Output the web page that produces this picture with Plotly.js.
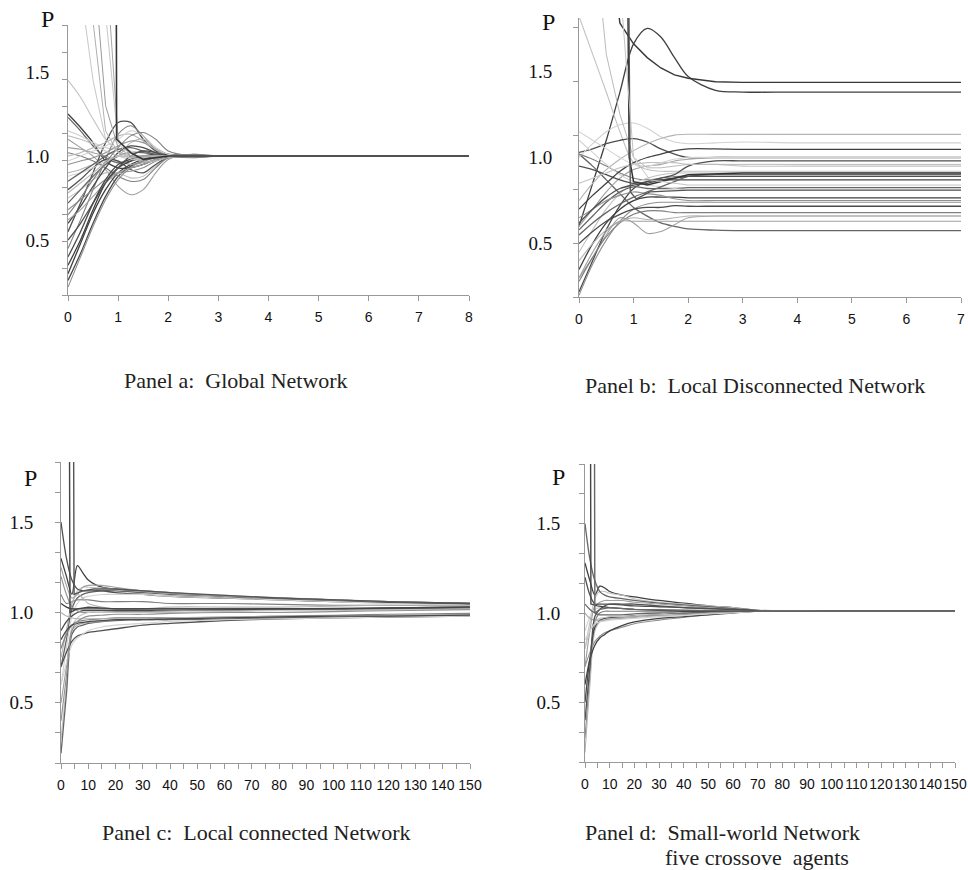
<!DOCTYPE html>
<html>
<head>
<meta charset="utf-8">
<script src="https://cdn.plot.ly/plotly-3.0.1.min.js"></script>
<style>html,body{margin:0;padding:0;background:#fff;}#chart{width:968px;height:870px;}</style>
</head>
<body>
<div id="chart"></div>
<script>
// ---------------- Panel a: Global Network ----------------
const xa = [0, 0.25, 0.5, 0.75, 1, 1.25, 1.5, 1.75, 2, 2.5, 3, 4, 8];
const a01 = [1.25, 1.17, 1.08, 0.97, 0.93, 0.93, 0.95, 0.98, 0.995, 1.0, 1.0, 1.0, 1.0];
const a02 = [1.23, 1.15, 1.06, 0.99, 0.96, 0.97, 0.99, 1.0, 1.0, 1.0, 1.0, 1.0, 1.0];
const a03 = [0.55, 0.72, 0.9, 1.08, 1.2, 1.2, 1.1, 1.03, 1.0, 0.995, 1.0, 1.0, 1.0];
const a04 = [0.45, 0.62, 0.8, 0.98, 1.13, 1.18, 1.12, 1.04, 1.0, 0.99, 1.0, 1.0, 1.0];
const a05 = [0.26, 0.42, 0.6, 0.76, 0.88, 0.94, 0.97, 0.99, 1.0, 1.0, 1.0, 1.0, 1.0];
const a06 = [0.3, 0.48, 0.66, 0.8, 0.9, 0.95, 0.98, 1.0, 1.0, 1.0, 1.0, 1.0, 1.0];
const a07 = [0.72, 0.8, 0.88, 0.95, 1.0, 1.02, 1.02, 1.01, 1.0, 1.0, 1.0, 1.0, 1.0];
const a08 = [0.8, 0.86, 0.93, 0.98, 0.97, 0.92, 0.9, 0.95, 0.99, 1.0, 1.0, 1.0, 1.0];
const a09 = [1.02, 1.0, 0.97, 0.93, 0.88, 0.85, 0.86, 0.93, 0.99, 1.01, 1.0, 1.0, 1.0];
const a10 = [0.6, 0.7, 0.82, 0.93, 1.02, 1.06, 1.05, 1.02, 1.0, 1.0, 1.0, 1.0, 1.0];
const a11 = [0.35, 0.5, 0.68, 0.84, 0.93, 0.97, 1.0, 1.01, 1.01, 1.0, 1.0, 1.0, 1.0];
const a12 = [0.85, 0.9, 0.95, 1.0, 1.04, 1.05, 1.03, 1.01, 1.0, 1.0, 1.0, 1.0, 1.0];
const a13 = [1.45, 1.35, 1.22, 1.1, 1.03, 1.0, 0.99, 1.0, 1.0, 1.0, 1.0, 1.0, 1.0];
const a14 = [1.1, 1.05, 1.0, 0.92, 0.82, 0.77, 0.8, 0.9, 0.98, 1.01, 1.0, 1.0, 1.0];
const a15 = [0.9, 0.92, 0.95, 0.98, 1.0, 1.08, 1.1, 1.05, 1.01, 1.0, 1.0, 1.0, 1.0];
const a16 = [1.15, 1.12, 1.08, 1.05, 1.04, 1.03, 1.02, 1.01, 1.0, 1.0, 1.0, 1.0, 1.0];
const a17 = [0.5, 0.6, 0.72, 0.84, 0.93, 1.0, 1.03, 1.02, 1.0, 1.0, 1.0, 1.0, 1.0];
const a18 = [0.65, 0.75, 0.86, 0.96, 1.05, 1.12, 1.14, 1.1, 1.03, 1.0, 1.0, 1.0, 1.0];
const a19 = [0.95, 0.97, 0.99, 1.02, 1.06, 1.09, 1.08, 1.04, 1.01, 1.0, 1.0, 1.0, 1.0];
const a20 = [0.4, 0.55, 0.72, 0.86, 0.95, 0.98, 1.0, 1.0, 1.0, 1.0, 1.0, 1.0, 1.0];
const a21 = [0.22, 0.4, 0.58, 0.74, 0.86, 0.93, 0.97, 0.99, 1.0, 1.0, 1.0, 1.0, 1.0];
const a22 = [0.75, 0.8, 0.86, 0.9, 0.9, 0.87, 0.88, 0.94, 0.99, 1.0, 1.0, 1.0, 1.0];
const a23 = [1.05, 1.04, 1.02, 1.0, 0.97, 0.95, 0.96, 0.98, 1.0, 1.0, 1.0, 1.0, 1.0];
const a24 = [0.88, 0.9, 0.93, 0.97, 1.0, 1.02, 1.03, 1.02, 1.01, 1.0, 1.0, 1.0, 1.0];
const a25 = [1.0, 1.02, 1.05, 1.08, 1.12, 1.13, 1.09, 1.04, 1.01, 1.0, 1.0, 1.0, 1.0];
const a26 = [0.68, 0.74, 0.8, 0.86, 0.9, 0.91, 0.93, 0.97, 1.0, 1.0, 1.0, 1.0, 1.0];
const a32 = [1.12, 1.1, 1.07, 1.03, 1.0, 0.98, 0.98, 0.99, 1.0, 1.0, 1.0, 1.0, 1.0];
const a33 = [0.62, 0.68, 0.76, 0.84, 0.9, 0.93, 0.95, 0.98, 1.0, 1.0, 1.0, 1.0, 1.0];
const a34 = [0.97, 1.0, 1.03, 1.06, 1.1, 1.15, 1.12, 1.05, 1.01, 1.0, 1.0, 1.0, 1.0];
const a35 = [0.78, 0.84, 0.9, 0.96, 1.0, 0.99, 0.97, 0.97, 0.99, 1.0, 1.0, 1.0, 1.0];
// steep entries from above the frame
const a27 = [3.0, 2.0, 1.45, 1.1, 1.02, 1.0, 1.0, 1.0, 1.0, 1.0, 1.0, 1.0, 1.0];
const a28 = [4.5, 3.0, 1.8, 1.15, 1.02, 0.99, 1.0, 1.0, 1.0, 1.0, 1.0, 1.0, 1.0];
const a29 = [5.0, 3.5, 2.2, 1.3, 1.05, 1.0, 1.0, 1.0, 1.0, 1.0, 1.0, 1.0, 1.0];
const a30 = [6.0, 4.5, 3.0, 1.85, 1.08, 0.98, 0.99, 1.0, 1.0, 1.0, 1.0, 1.0, 1.0];
const a31 = [7.0, 5.5, 3.8, 2.2, 1.1, 1.0, 1.0, 1.0, 1.0, 1.0, 1.0, 1.0, 1.0];
const xaSpike = [0, 0.96, 0.97, 1.25, 1.5, 2, 3, 8];
const aSpike = [2.5, 2.5, 1.1, 1.02, 0.98, 1.0, 1.0, 1.0];

// ---------------- Panel b: Local Disconnected Network ----------------
const xb = [0, 0.25, 0.5, 0.75, 1, 1.25, 1.5, 1.75, 2, 2.5, 3, 4, 7];
const b01 = [0.6, 0.85, 1.1, 1.38, 1.66, 1.75, 1.7, 1.58, 1.47, 1.39, 1.38, 1.38, 1.38];
const b02 = [4.0, 3.2, 2.4, 1.78, 1.66, 1.58, 1.52, 1.48, 1.46, 1.44, 1.436, 1.436, 1.436];
const b03 = [1.82, 1.6, 1.38, 1.15, 0.97, 0.93, 0.92, 0.92, 0.92, 0.92, 0.92, 0.92, 0.92];
const b06 = [1.02, 0.95, 0.87, 0.79, 0.71, 0.66, 0.62, 0.6, 0.585, 0.578, 0.575, 0.575, 0.575];
const b07 = [0.3, 0.42, 0.55, 0.65, 0.62, 0.56, 0.57, 0.61, 0.65, 0.66, 0.66, 0.66, 0.66];
const b08 = [1.03, 1.05, 1.08, 1.1, 1.11, 1.09, 1.05, 1.02, 1.0, 1.0, 1.0, 1.0, 1.0];
const b09 = [1.0, 1.08, 1.15, 1.19, 1.2, 1.17, 1.12, 1.09, 1.08, 1.085, 1.09, 1.085, 1.085];
const b10 = [0.75, 0.85, 0.93, 0.99, 1.04, 1.08, 1.11, 1.13, 1.135, 1.134, 1.134, 1.134, 1.134];
const b11 = [1.02, 0.99, 0.95, 0.91, 0.88, 0.87, 0.88, 0.89, 0.89, 0.89, 0.89, 0.89, 0.89];
const b12 = [0.22, 0.4, 0.58, 0.72, 0.82, 0.86, 0.87, 0.87, 0.87, 0.87, 0.87, 0.87, 0.87];
const b13 = [0.2, 0.38, 0.52, 0.63, 0.7, 0.73, 0.74, 0.74, 0.74, 0.74, 0.74, 0.74, 0.74];
const b14 = [0.35, 0.5, 0.62, 0.7, 0.75, 0.77, 0.77, 0.77, 0.766, 0.766, 0.766, 0.766, 0.766];
const b15 = [0.45, 0.58, 0.7, 0.79, 0.85, 0.88, 0.9, 0.91, 0.91, 0.91, 0.91, 0.91, 0.91];
const b16 = [0.58, 0.66, 0.74, 0.8, 0.83, 0.82, 0.82, 0.82, 0.825, 0.825, 0.825, 0.825, 0.825];
const b17 = [0.6, 0.7, 0.8, 0.88, 0.93, 0.95, 0.96, 0.98, 0.99, 1.0, 1.0, 1.0, 1.0];
const b18 = [0.95, 0.93, 0.9, 0.87, 0.85, 0.86, 0.88, 0.9, 0.95, 0.98, 0.98, 0.98, 0.98];
const b19 = [1.1, 1.03, 0.96, 0.9, 0.86, 0.84, 0.83, 0.82, 0.81, 0.81, 0.81, 0.81, 0.81];
const b20 = [0.28, 0.42, 0.54, 0.62, 0.67, 0.69, 0.69, 0.68, 0.68, 0.68, 0.68, 0.68, 0.68];
const b21 = [0.4, 0.5, 0.58, 0.63, 0.65, 0.64, 0.64, 0.65, 0.66, 0.66, 0.66, 0.66, 0.66];
const b22 = [0.5, 0.57, 0.63, 0.67, 0.7, 0.71, 0.71, 0.72, 0.717, 0.717, 0.717, 0.717, 0.717];
const b23 = [0.65, 0.7, 0.75, 0.78, 0.8, 0.79, 0.78, 0.76, 0.75, 0.75, 0.75, 0.75, 0.75];
const b24 = [0.7, 0.78, 0.85, 0.92, 0.97, 1.0, 1.02, 1.04, 1.05, 1.05, 1.047, 1.047, 1.047];
const b25 = [0.85, 0.88, 0.91, 0.94, 0.96, 0.97, 0.97, 0.97, 0.96, 0.96, 0.95, 0.95, 0.95];
const b26 = [0.55, 0.62, 0.68, 0.73, 0.77, 0.8, 0.83, 0.86, 0.89, 0.9, 0.9, 0.9, 0.9];
const b27 = [3.0, 2.4, 1.6, 1.25, 1.0, 0.94, 0.94, 0.95, 0.96, 0.96, 0.96, 0.96, 0.96];
const b29 = [0.3, 0.45, 0.57, 0.63, 0.63, 0.63, 0.63, 0.63, 0.63, 0.63, 0.63, 0.63, 0.63];
const b30 = [0.62, 0.7, 0.77, 0.82, 0.84, 0.85, 0.87, 0.88, 0.89, 0.89, 0.89, 0.89, 0.89];
const b31 = [1.15, 1.1, 1.05, 1.0, 0.96, 0.95, 0.97, 0.99, 1.0, 1.0, 1.0, 1.0, 1.0];
const xbSpike1 = [0, 0.88, 0.92, 1.0, 1.25, 1.5, 2, 3, 7];
const bSpike1 = [2.5, 2.5, 1.0, 0.86, 0.84, 0.86, 0.9, 0.91, 0.91];
const xbSpike2 = [0, 0.9, 0.94, 1.05, 1.3, 2, 3, 7];
const bSpike2 = [2.5, 2.5, 0.8, 0.76, 0.8, 0.81, 0.81, 0.81];
const xbSteep = [0, 0.8, 1.0, 1.3, 2, 3, 7];
const bSteep = [2.5, 1.81, 1.0, 0.87, 0.84, 0.84, 0.84];

// ---------------- Panel c: Local connected Network ----------------
const xc = [0, 2, 4, 6, 8, 10, 15, 20, 30, 40, 60, 80, 100, 120, 150];
const c01 = [1.3, 1.2, 1.1, 1.26, 1.22, 1.18, 1.14, 1.13, 1.12, 1.11, 1.09, 1.08, 1.07, 1.06, 1.05];
const c02 = [0.8, 0.9, 1.05, 1.12, 1.14, 1.14, 1.135, 1.13, 1.12, 1.11, 1.095, 1.08, 1.07, 1.06, 1.05];
const c03 = [0.7, 0.85, 1.02, 1.08, 1.1, 1.11, 1.12, 1.12, 1.11, 1.1, 1.09, 1.075, 1.065, 1.055, 1.045];
const c04 = [1.25, 1.15, 1.08, 1.1, 1.14, 1.15, 1.15, 1.14, 1.12, 1.105, 1.09, 1.08, 1.07, 1.06, 1.05];
const c05 = [1.5, 1.3, 1.18, 1.13, 1.12, 1.12, 1.12, 1.11, 1.1, 1.09, 1.08, 1.07, 1.06, 1.055, 1.05];
const c06 = [0.6, 0.8, 0.98, 1.05, 1.08, 1.09, 1.1, 1.1, 1.1, 1.09, 1.08, 1.07, 1.06, 1.05, 1.04];
const c07 = [1.1, 1.05, 1.06, 1.07, 1.07, 1.07, 1.06, 1.06, 1.06, 1.05, 1.05, 1.045, 1.04, 1.04, 1.035];
const c08 = [0.75, 0.9, 1.05, 1.1, 1.08, 1.05, 1.03, 1.02, 1.02, 1.03, 1.03, 1.03, 1.035, 1.04, 1.04];
const c09 = [0.9, 0.95, 0.98, 1.0, 1.01, 1.01, 1.01, 1.01, 1.01, 1.01, 1.015, 1.02, 1.02, 1.025, 1.03];
const c10 = [1.2, 1.1, 1.03, 1.01, 1.0, 1.0, 1.0, 1.005, 1.005, 1.01, 1.01, 1.015, 1.02, 1.02, 1.025];
const c11 = [1.05, 1.03, 1.02, 1.02, 1.02, 1.02, 1.02, 1.02, 1.02, 1.02, 1.02, 1.02, 1.02, 1.02, 1.02];
const c12 = [0.3, 0.6, 0.92, 0.97, 0.99, 1.0, 1.0, 1.0, 1.0, 1.0, 1.005, 1.01, 1.01, 1.015, 1.02];
const c13 = [0.22, 0.55, 0.88, 0.92, 0.93, 0.94, 0.95, 0.955, 0.96, 0.96, 0.965, 0.97, 0.975, 0.98, 0.99];
const c14 = [0.5, 0.7, 0.9, 0.93, 0.94, 0.945, 0.95, 0.96, 0.965, 0.97, 0.97, 0.975, 0.98, 0.985, 0.99];
const c15 = [0.7, 0.78, 0.84, 0.87, 0.88, 0.89, 0.9, 0.91, 0.93, 0.94, 0.955, 0.965, 0.97, 0.975, 0.98];
const c16 = [0.6, 0.72, 0.82, 0.86, 0.88, 0.9, 0.92, 0.93, 0.94, 0.95, 0.96, 0.965, 0.97, 0.975, 0.98];
const c17 = [0.8, 0.88, 0.93, 0.95, 0.955, 0.96, 0.965, 0.97, 0.97, 0.97, 0.975, 0.98, 0.985, 0.99, 0.995];
const c18 = [1.0, 0.98, 0.97, 0.965, 0.965, 0.965, 0.965, 0.965, 0.965, 0.97, 0.975, 0.98, 0.98, 0.985, 0.99];
const c19 = [0.85, 0.9, 0.93, 0.94, 0.945, 0.95, 0.955, 0.96, 0.96, 0.965, 0.97, 0.975, 0.98, 0.98, 0.985];
const c20 = [0.4, 0.65, 0.9, 0.95, 0.97, 0.98, 0.985, 0.99, 0.99, 0.995, 1.0, 1.0, 1.005, 1.01, 1.015];
const xcSpike1 = [0, 2.8, 3.3, 6, 10, 20, 40, 80, 120, 150];
const cSpike1 = [3.5, 3.5, 1.0, 1.02, 1.03, 1.02, 1.02, 1.02, 1.025, 1.03];
const xcSpike2 = [0, 4.3, 4.8, 8, 12, 20, 40, 80, 120, 150];
const cSpike2 = [3.5, 3.5, 1.1, 1.12, 1.13, 1.13, 1.11, 1.08, 1.06, 1.05];

// ---------------- Panel d: Small-world Network ----------------
const xd = [0, 2, 4, 6, 8, 10, 15, 20, 30, 40, 50, 60, 70, 100, 150];
const d01 = [1.28, 1.18, 1.1, 1.15, 1.14, 1.12, 1.1, 1.09, 1.07, 1.055, 1.04, 1.03, 1.015, 1.01, 1.01];
const d02 = [0.8, 0.95, 1.08, 1.12, 1.12, 1.11, 1.1, 1.08, 1.06, 1.05, 1.04, 1.03, 1.015, 1.01, 1.01];
const d03 = [1.5, 1.3, 1.18, 1.12, 1.1, 1.09, 1.08, 1.07, 1.055, 1.045, 1.035, 1.025, 1.015, 1.01, 1.01];
const d04 = [0.7, 0.9, 1.04, 1.06, 1.07, 1.07, 1.07, 1.06, 1.05, 1.04, 1.03, 1.02, 1.012, 1.01, 1.01];
const d05 = [1.2, 1.1, 1.05, 1.05, 1.05, 1.05, 1.045, 1.04, 1.035, 1.03, 1.025, 1.02, 1.012, 1.01, 1.01];
const d06 = [0.9, 0.98, 1.02, 1.03, 1.03, 1.03, 1.025, 1.02, 1.02, 1.015, 1.012, 1.01, 1.01, 1.01, 1.01];
const d07 = [0.3, 0.65, 0.95, 1.0, 1.01, 1.01, 1.01, 1.01, 1.01, 1.01, 1.01, 1.01, 1.01, 1.01, 1.01];
const d08 = [0.22, 0.6, 0.9, 0.95, 0.96, 0.97, 0.975, 0.98, 0.99, 0.995, 1.0, 1.005, 1.01, 1.01, 1.01];
const d09 = [0.5, 0.75, 0.92, 0.96, 0.97, 0.975, 0.98, 0.985, 0.99, 0.995, 1.0, 1.005, 1.01, 1.01, 1.01];
const d10 = [0.7, 0.78, 0.84, 0.87, 0.89, 0.9, 0.92, 0.94, 0.96, 0.975, 0.99, 1.0, 1.01, 1.01, 1.01];
const d11 = [0.6, 0.74, 0.82, 0.86, 0.88, 0.9, 0.93, 0.95, 0.97, 0.98, 0.99, 1.0, 1.01, 1.01, 1.01];
const d12 = [0.8, 0.9, 0.95, 0.97, 0.975, 0.98, 0.98, 0.985, 0.99, 0.995, 1.0, 1.005, 1.01, 1.01, 1.01];
const d13 = [1.05, 1.02, 1.0, 0.99, 0.99, 0.99, 0.99, 0.995, 1.0, 1.0, 1.005, 1.008, 1.01, 1.01, 1.01];
const d14 = [1.0, 0.97, 0.96, 0.96, 0.96, 0.965, 0.97, 0.975, 0.985, 0.99, 1.0, 1.005, 1.01, 1.01, 1.01];
const d15 = [0.4, 0.7, 0.98, 1.02, 1.04, 1.05, 1.05, 1.05, 1.04, 1.03, 1.025, 1.02, 1.012, 1.01, 1.01];
const d16 = [0.85, 0.9, 0.94, 0.95, 0.955, 0.96, 0.965, 0.97, 0.98, 0.985, 0.995, 1.0, 1.01, 1.01, 1.01];
const xdSpike1 = [0, 2, 2.4, 5, 10, 20, 40, 70, 150];
const dSpike1 = [3.5, 3.5, 1.05, 1.04, 1.03, 1.02, 1.01, 1.01, 1.01];
const xdSpike2 = [0, 3.6, 4, 6, 10, 20, 40, 70, 150];
const dSpike2 = [3.5, 3.5, 1.0, 1.02, 1.03, 1.02, 1.015, 1.01, 1.01];

// Tick labels / captions
const yTickVals = [0.5, 1.0, 1.5];
const yTickText = ['0.5', '1.0', '1.5'];
const captions = ['Panel a:\u00a0\u00a0Global Network', 'Panel b:\u00a0\u00a0Local Disconnected Network',
                  'Panel c:\u00a0\u00a0Local connected Network', 'Panel d:\u00a0\u00a0Small-world Network',
                  'five crossove\u00a0\u00a0agents'];

// ---------------- styles ----------------
const shades = ['#404040', '#c2c2c2', '#666666', '#a0a0a0', '#505050', '#d2d2d2', '#808080', '#b4b4b4', '#4a4a4a', '#909090'];
const darkSet = ['#404040', '#505050', '#4a4a4a', '#666666'];

const traces = [];
function addSeries(x, list, xa_, ya_, shape) {
  list.forEach((y, i) => {
    const c = shades[i % shades.length];
    const dark = darkSet.includes(c);
    traces.push({x: x, y: y, xaxis: xa_, yaxis: ya_, mode: 'lines', type: 'scatter',
      line: {color: c, width: dark ? 1.3 : 1.1, shape: shape || 'spline', smoothing: 0.9},
      hoverinfo: 'skip', showlegend: false});
  });
}
function addLinear(x, y, xa_, ya_, c, w) {
  traces.push({x: x, y: y, xaxis: xa_, yaxis: ya_, mode: 'lines', type: 'scatter',
    line: {color: c, width: w, shape: 'linear'}, hoverinfo: 'skip', showlegend: false});
}

addSeries(xa, [a01,a13,a02,a14,a03,a16,a04,a15,a05,a19,a06,a22,a07,a23,a08,a24,a09,a25,a10,a26,a11,a32,a12,a33,a17,a34,a18,a35,a20,a21], 'x', 'y');
addLinear(xa, a27, 'x', 'y', '#c8c8c8', 1);
addLinear(xa, a28, 'x', 'y', '#b0b0b0', 1);
addLinear(xa, a29, 'x', 'y', '#9a9a9a', 1);
addLinear(xa, a30, 'x', 'y', '#c8c8c8', 1);
addLinear(xa, a31, 'x', 'y', '#a8a8a8', 1);
addLinear(xaSpike, aSpike, 'x', 'y', '#333', 1.6);

addSeries(xb, [b01,b03,b06,b07,b08,b09,b11,b10,b12,b13,b14,b15,b16,b17,b18,b19,b20,b21,b22,b23,b24,b25,b26,b29,b30,b31], 'x2', 'y2');
addLinear(xb, b02, 'x2', 'y2', '#383838', 1.4);
addLinear(xb, b27, 'x2', 'y2', '#bbb', 1);
addLinear(xbSpike1, bSpike1, 'x2', 'y2', '#333', 1.5);
addLinear(xbSpike2, bSpike2, 'x2', 'y2', '#555', 1.3);
addLinear(xbSteep, bSteep, 'x2', 'y2', '#c4c4c4', 1);

addSeries(xc, [c01,c02,c03,c04,c05,c06,c07,c08,c09,c10,c11,c12,c13,c14,c15,c16,c17,c18,c19,c20], 'x3', 'y3');
addLinear(xcSpike1, cSpike1, 'x3', 'y3', '#444', 1.4);
addLinear(xcSpike2, cSpike2, 'x3', 'y3', '#555', 1.4);

addSeries(xd, [d01,d02,d03,d04,d05,d06,d07,d08,d09,d10,d11,d12,d13,d14,d15,d16], 'x4', 'y4');
addLinear(xdSpike1, dSpike1, 'x4', 'y4', '#444', 1.4);
addLinear(xdSpike2, dSpike2, 'x4', 'y4', '#666', 1.4);

// ---------------- layout ----------------
const W = 968, H = 870;
const px = (a, b) => [a / W, b / W];
const py = (top, bottom) => [1 - bottom / H, 1 - top / H];
const axColor = '#999';
const xFont = {family: 'Liberation Sans, Arial, sans-serif', size: 14, color: '#111'};
const xFontSmall = {family: 'Liberation Sans, Arial, sans-serif', size: 14, color: '#111'};
const yFont = {family: 'Liberation Serif, Times New Roman, serif', size: 19, color: '#111'};

function xAxis(dom, range, anchor, dtick, minorDtick, font) {
  const ax = {domain: dom, range: range, anchor: anchor, showgrid: false, zeroline: false,
    showline: true, linecolor: axColor, linewidth: 1, ticks: 'outside', ticklen: 5,
    tickcolor: axColor, tickwidth: 1, tickmode: 'linear', tick0: 0, dtick: dtick, tickangle: 0,
    tickfont: font, ticklabelstandoff: 4, fixedrange: true};
  if (minorDtick) ax.minor = {tickmode: 'linear', tick0: 0, dtick: minorDtick, ticks: 'outside', ticklen: 5, tickcolor: axColor, showgrid: false};
  return ax;
}
function yAxis(dom, range, anchor, mtick0, mdtick, majorTicks, standoff) {
  return {domain: dom, range: range, anchor: anchor, showgrid: false, zeroline: false,
    showline: true, linecolor: axColor, linewidth: 1,
    tickmode: 'array', tickvals: yTickVals, ticktext: yTickText, tickangle: 0,
    ticks: majorTicks ? 'outside' : '', ticklen: 5, tickcolor: axColor,
    tickfont: yFont, ticklabelstandoff: standoff,
    minor: {tickmode: 'linear', tick0: mtick0, dtick: mdtick, ticks: 'outside', ticklen: 5, tickcolor: axColor, showgrid: false},
    fixedrange: true};
}

const layout = {
  width: W, height: H, margin: {l: 0, r: 0, t: 0, b: 0},
  paper_bgcolor: '#fff', plot_bgcolor: 'rgba(0,0,0,0)', showlegend: false,
  xaxis: xAxis(px(68, 469), [0, 8], 'y', 1, null, xFont),
  yaxis: yAxis(py(25, 295), [0.173, 1.78], 'x', 0.173, 0.1607, false, 14),
  xaxis2: xAxis(px(579, 961), [0, 7], 'y2', 1, null, xFont),
  yaxis2: yAxis(py(18, 297), [0.19, 1.81], 'x2', 0.19, 0.3135, false, 22),
  xaxis3: xAxis(px(61, 470), [0, 150], 'y3', 10, 5, xFontSmall),
  yaxis3: yAxis(py(462, 763), [1/6, 11/6], 'x3', 1/6, 1/6, true, 18),
  xaxis4: xAxis(px(585, 955), [0, 150], 'y4', 10, 5, xFontSmall),
  yaxis4: yAxis(py(464, 762), [1/6, 11/6], 'x4', 1/6, 1/6, true, 15),
  annotations: []
};
const pFont = {family: 'Liberation Serif, Times New Roman, serif', size: 24, color: '#111'};
const capFont = {family: 'Liberation Serif, Times New Roman, serif', size: 22, color: '#222'};
function ann(text, x, y, font, xanchor) {
  layout.annotations.push({text: text, xref: 'paper', yref: 'paper', x: x / W, y: 1 - y / H,
    xanchor: xanchor || 'center', yanchor: 'middle', showarrow: false, font: font});
}
ann('P', 47, 19, pFont);
ann('P', 548, 22, pFont);
ann('P', 30, 478, pFont);
ann('P', 558, 477, pFont);
ann(captions[0], 122, 380, capFont, 'left');
ann(captions[1], 583, 386, capFont, 'left');
ann(captions[2], 100, 832, capFont, 'left');
ann(captions[3], 583, 832, capFont, 'left');
ann(captions[4], 663, 857, capFont, 'left');

Plotly.newPlot('chart', traces, layout, {staticPlot: true, displayModeBar: false});
</script>
</body>
</html>
